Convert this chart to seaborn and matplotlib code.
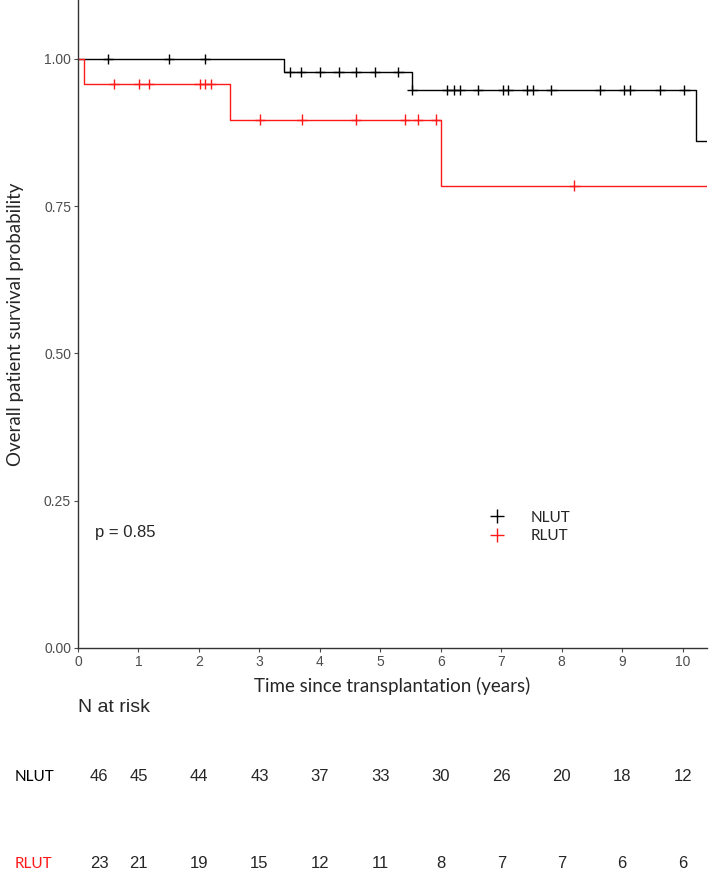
import numpy as np
import pandas as pd
import seaborn as sns
import matplotlib.pyplot as plt
from matplotlib.lines import Line2D

# Kaplan-Meier steps
nlut_times = [0, 3.4, 5.52, 10.22, 10.4]
nlut_surv = [1.0, 0.978, 0.947, 0.861, 0.861]
rlut_times = [0, 0.1, 2.51, 6.01, 10.4]
rlut_surv = [1.0, 0.957, 0.897, 0.785, 0.785]

# censoring times
nlut_cens = [0.5, 1.5, 2.1, 3.5, 3.69, 4.0, 4.31, 4.6, 4.91, 5.3, 5.52,
             6.11, 6.21, 6.31, 6.61, 7.03, 7.11, 7.42, 7.52, 7.83, 8.63,
             9.03, 9.13, 9.62, 10.03]
rlut_cens = [0.6, 1.01, 1.18, 2.01, 2.1, 2.2, 3.01, 3.71, 4.6, 5.41, 5.62,
             5.92, 8.21]

# number at risk table
risk_times = [0, 1, 2, 3, 4, 5, 6, 7, 8, 9, 10]
nlut_risk = [46, 45, 44, 43, 37, 33, 30, 26, 20, 18, 12]
rlut_risk = [23, 21, 19, 15, 12, 11, 8, 7, 7, 6, 6]

groups = ['NLUT', 'RLUT']
colors = {'NLUT': 'black', 'RLUT': '#FF1A1A'}


def step_value(times, surv, t):
    idx = np.searchsorted(times, t, side='right') - 1
    return surv[idx]


curves = pd.concat([
    pd.DataFrame({'time': nlut_times, 'surv': nlut_surv, 'group': 'NLUT'}),
    pd.DataFrame({'time': rlut_times, 'surv': rlut_surv, 'group': 'RLUT'}),
])
cens = pd.concat([
    pd.DataFrame({'time': nlut_cens,
                  'surv': [step_value(nlut_times, nlut_surv, t) for t in nlut_cens],
                  'group': 'NLUT'}),
    pd.DataFrame({'time': rlut_cens,
                  'surv': [step_value(rlut_times, rlut_surv, t) for t in rlut_cens],
                  'group': 'RLUT'}),
])

sns.set_style('ticks')
plt.rcParams['font.family'] = ['Liberation Sans', 'DejaVu Sans']

fig = plt.figure(figsize=(7.09, 8.72), dpi=100)
ax = fig.add_axes([0.110, 0.2569, 0.887, 0.7431])

sns.lineplot(data=curves, x='time', y='surv', hue='group', palette=colors,
             estimator=None, sort=False, drawstyle='steps-post',
             linewidth=1.0, legend=False, ax=ax)
sns.scatterplot(data=cens, x='time', y='surv', hue='group', palette=colors,
                marker='+', s=55, linewidth=1.0, legend=False, ax=ax, zorder=3)

ax.set_xlim(0, 10.4)
ax.set_ylim(0, 1.10)
ax.set_xticks(range(0, 11))
ax.set_yticks([0, 0.25, 0.5, 0.75, 1.0])
ax.set_yticklabels(['0.00', '0.25', '0.50', '0.75', '1.00'])
ax.tick_params(axis='both', labelsize=10, labelcolor='#4D4D4D', color='#4D4D4D',
               length=3, width=0.8, pad=2)
sns.despine(ax=ax)
for sp in ['left', 'bottom']:
    ax.spines[sp].set_linewidth(1.0)
    ax.spines[sp].set_color('#333333')

ax.set_xlabel('Time since transplantation (years)', family='Lato', fontsize=13.5)
ax.set_ylabel('Overall patient survival probability', family='Lato', fontsize=13.5)
ax.xaxis.set_label_coords(0.5, -0.045)
ax.yaxis.set_label_coords(-0.086, 0.5)

ax.text(0.28, 0.196, 'p = 0.85', fontsize=12, va='center', ha='left')

handles = [Line2D([], [], color=colors[g], marker='+', linestyle='none',
                  markersize=10, markeredgewidth=1.0) for g in groups]
leg = ax.legend(handles, groups, frameon=False, loc='center left',
                bbox_to_anchor=(0.62, 0.187), handletextpad=1.2,
                labelspacing=0.3, prop={'family': 'Lato', 'size': 11})

# risk table below the axes
tr = ax.get_xaxis_transform()
ax.text(0, -0.0926, 'N at risk', transform=tr, fontsize=14, ha='left', va='center')
rows = [('NLUT', nlut_risk, -0.199), ('RLUT', rlut_risk, -0.333)]
for name, counts, yy in rows:
    ax.text(-1.047, yy, name, transform=tr, family='Lato', fontsize=11,
            color=colors[name], ha='left', va='center')
    for t, n in zip(risk_times, counts):
        xx = 0.35 if t == 0 else t
        ax.text(xx, yy, str(n), transform=tr, fontsize=12, ha='center',
                va='center', clip_on=False)

fig.savefig('out.png', dpi=100)
